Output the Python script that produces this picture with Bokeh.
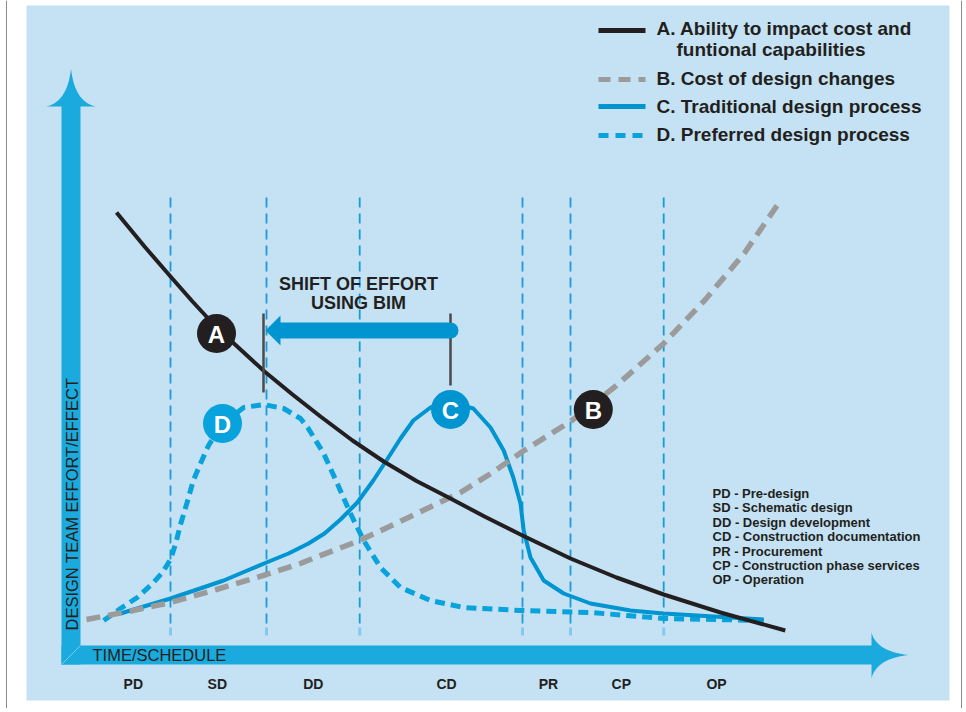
import numpy as np
from bokeh.plotting import figure
from bokeh.models import Range1d
from bokeh.embed import file_html
from bokeh.resources import INLINE
from bokeh.core.properties import value

# ---------------- data (chart units: x = time 0..100, y = effort 0..100) ----------------
phase_labels = ["PD", "SD", "DD", "CD", "PR", "CP", "OP"]
phase_label_x = [6.6, 17.1, 29.1, 45.75, 58.5, 67.6, 79.5]
phase_bounds = [11.25, 23.25, 34.9, 55.25, 61.25, 72.9]

a_x = [4.5, 8.0, 11.25, 14.0, 17.0, 20.0, 23.0, 26.5, 30.0, 34.0, 37.9, 42.0, 46.25, 50.5, 55.25, 61.25, 67.0, 72.9, 80.0, 88.1]
a_y = [86.6, 79.8, 73.8, 68.8, 63.6, 59.2, 54.8, 50.2, 45.8, 41.0, 36.8, 32.9, 29.4, 25.8, 22.0, 17.4, 13.6, 10.2, 6.6, 3.0]

b_x = [0.75, 6.0, 11.25, 17.0, 23.25, 27.5, 29.0, 34.9, 41.0, 47.5, 51.5, 55.25, 61.25, 67.0, 72.9, 78.0, 83.0, 87.5]
b_y = [5.2, 6.8, 8.6, 11.2, 14.2, 16.4, 17.4, 21.0, 25.6, 30.6, 34.6, 38.8, 44.8, 52.0, 60.4, 69.0, 78.5, 89.0]

c_x = [5.0, 11.25, 17.9, 23.25, 26.0, 28.5, 30.5, 32.5, 34.6, 36.6, 38.4, 40.0, 41.6, 43.75, 46.25, 49.1, 51.25, 52.9, 54.1, 55.0, 55.4, 56.25, 57.9, 60.4, 63.75, 68.75, 72.9, 85.4]
c_y = [6.4, 9.4, 13.0, 16.6, 18.4, 20.4, 22.4, 25.2, 28.6, 33.0, 37.4, 41.4, 45.0, 47.6, 48.6, 47.4, 43.6, 39.0, 33.6, 28.4, 23.0, 17.6, 13.0, 10.4, 8.4, 7.0, 6.4, 5.2]

d_x = [2.9, 5.0, 7.1, 9.0, 10.25, 11.25, 11.9, 12.5, 13.4, 14.1, 15.0, 16.0, 17.75, 20.4, 22.9, 25.4, 27.5, 28.4, 30.4, 32.1, 33.75, 35.4, 37.5, 40.0, 43.75, 47.9, 55.0, 63.75, 72.9, 85.4]
d_y = [5.0, 7.4, 9.6, 12.4, 14.6, 17.2, 20.4, 24.2, 29.0, 33.0, 36.4, 40.0, 44.4, 47.6, 48.2, 47.4, 45.4, 43.6, 38.4, 32.4, 26.4, 21.0, 15.6, 11.6, 9.0, 7.6, 7.0, 6.6, 5.4, 5.0]

marker_letters = ["A", "B", "C", "D"]
marker_x = [17.0, 64.1, 46.25, 17.75]
marker_y = [62.4, 47.2, 47.2, 44.4]

legend_lines = ["A. Ability to impact cost and", "funtional capabilities", "B. Cost of design changes",
                "C. Traditional design process", "D. Preferred design process"]
notes = ["PD - Pre-design", "SD - Schematic design", "DD - Design development",
         "CD - Construction documentation", "PR - Procurement", "CP - Construction phase services",
         "OP - Operation"]

# ---------------- layout helpers (window pixel -> chart units) ----------------
def X(px):
    return (px - 80) / 8.0

def Y(py):
    return (645 - py) / 5.0

W, H = 962, 708
TXT = "#231F20"
BLUE_AX = "#1AAADD"
C_COL = "#0094D1"
D_COL = "#08A2DC"
B_COL = "#9B9B9B"
VL_COL = "#1B9AD5"
FONT = value("Liberation Sans")

p = figure(width=W, height=H, output_backend="svg", toolbar_location=None,
           x_range=Range1d(X(0), X(W)), y_range=Range1d(Y(H), Y(0)),
           min_border=0, outline_line_color=None,
           background_fill_color="white", border_fill_color="white")
p.xaxis.visible = False
p.yaxis.visible = False
p.xgrid.visible = False
p.ygrid.visible = False

# page border lines and panel
p.segment(x0=[X(6), X(961)], y0=[Y(712), Y(712)], x1=[X(6), X(961)], y1=[Y(0), Y(0)],
          line_color="#8C8C8C", line_width=1)
p.quad(left=X(26), right=X(949), bottom=Y(700), top=Y(5), fill_color="#C4E2F3", line_color=None)

# phase boundaries
p.segment(x0=phase_bounds, x1=phase_bounds, y0=[Y(623)] * 6, y1=[Y(195)] * 6,
          line_color=VL_COL, line_width=1.8, line_dash="10 6")
p.segment(x0=phase_bounds, x1=phase_bounds, y0=[Y(635)] * 6, y1=[Y(627)] * 6,
          line_color="#86C9EA", line_width=3)

# axis arrows
def qbez(p0, c, p1, n=30):
    t = np.linspace(0, 1, n)
    xs = (1 - t) ** 2 * p0[0] + 2 * (1 - t) * t * c[0] + t ** 2 * p1[0]
    ys = (1 - t) ** 2 * p0[1] + 2 * (1 - t) * t * c[1] + t ** 2 * p1[1]
    return xs, ys

def head(c1, ctrl1, tip, ctrl2, c2):
    x1, y1 = qbez(c1, ctrl1, tip)
    x2, y2 = qbez(tip, ctrl2, c2)
    xs = np.concatenate([x1, x2])
    ys = np.concatenate([y1, y2])
    return [X(v) for v in xs], [Y(v) for v in ys]

p.quad(left=X(61), right=X(80), top=Y(104), bottom=Y(664), fill_color=BLUE_AX, line_color=None)
p.quad(left=X(61), right=X(873), top=Y(645), bottom=Y(664), fill_color=BLUE_AX, line_color=None)
hx, hy = head((46, 106), (67, 101), (70.5, 68), (74, 101), (95, 106))
p.patch(hx, hy, fill_color=BLUE_AX, line_color=None)
hx, hy = head((871, 632), (876, 651), (908, 654.5), (876, 658), (871, 678))
p.patch(hx, hy, fill_color=BLUE_AX, line_color=None)
p.line([X(80), X(61)], [Y(645), Y(664)], line_color="#7CCBEC", line_width=1)

p.text(x=[X(92)], y=[Y(654)], text=["TIME/SCHEDULE"], text_font=FONT, text_font_size="16.5px",
       text_color=TXT, text_baseline="middle", text_align="left")
p.text(x=[X(71)], y=[Y(630)], text=["DESIGN TEAM EFFORT/EFFECT"], angle=np.pi / 2,
       text_font=FONT, text_font_size="16.5px", text_color=TXT, text_baseline="middle", text_align="left")

# phase labels
p.text(x=phase_label_x, y=[Y(683)] * len(phase_labels), text=phase_labels, text_font=FONT,
       text_font_style="bold", text_font_size="14px", text_color=TXT,
       text_align="center", text_baseline="middle")

# curves
p.line(d_x, d_y, line_color=D_COL, line_width=5, line_dash="10 6")
p.line(c_x, c_y, line_color=C_COL, line_width=4, line_join="round")
p.line(b_x, b_y, line_color=B_COL, line_width=5.5, line_dash="14 8")
p.line(a_x, a_y, line_color=TXT, line_width=4, line_join="round")

# shift of effort arrow
p.segment(x0=[X(263), X(450)], x1=[X(263), X(450)], y0=[Y(392), Y(385)], y1=[Y(313), Y(313)],
          line_color="#4A4A4A", line_width=2.5)
p.line([X(279), X(450)], [Y(330), Y(330)], line_color=C_COL, line_width=16, line_cap="round")
p.patch([X(265), X(280), X(280)], [Y(330), Y(315), Y(345)], fill_color=C_COL, line_color=None)
p.text(x=[X(358), X(358)], y=[Y(283), Y(302)], text=["SHIFT OF EFFORT", "USING BIM"],
       text_font=FONT, text_font_style="bold", text_font_size="18px", text_color=TXT,
       text_align="center", text_baseline="middle")

# letter markers
marker_fill = [TXT, TXT, C_COL, D_COL]
p.scatter(marker_x, marker_y, size=39, fill_color=marker_fill, line_color=None)
p.text(x=marker_x, y=[v - 0.2 for v in marker_y], text=marker_letters, text_font=FONT,
       text_font_style="bold", text_font_size="24px", text_color="white",
       text_align="center", text_baseline="middle")

# legend
lx0, lx1 = X(598), X(645)
p.line([lx0, lx1], [Y(30), Y(30)], line_color=TXT, line_width=5)
p.line([lx0, lx1], [Y(79), Y(79)], line_color=B_COL, line_width=5, line_dash="12 8")
p.line([lx0, lx1], [Y(106), Y(106)], line_color=C_COL, line_width=5)
p.line([lx0, lx1], [Y(135), Y(135)], line_color=D_COL, line_width=5, line_dash="10 7")
p.text(x=[X(656), X(676), X(656), X(656), X(656)],
       y=[Y(28), Y(49), Y(78), Y(106), Y(134)], text=legend_lines,
       text_font=FONT, text_font_style="bold", text_font_size="19px", text_color=TXT,
       text_align="left", text_baseline="middle")

# notes
p.text(x=[X(712)] * len(notes), y=[Y(493 + 14.4 * i) for i in range(len(notes))], text=notes,
       text_font=FONT, text_font_style="bold", text_font_size="13px", text_color=TXT,
       text_align="left", text_baseline="middle")

open("out.html", "w").write(file_html(p, INLINE))
